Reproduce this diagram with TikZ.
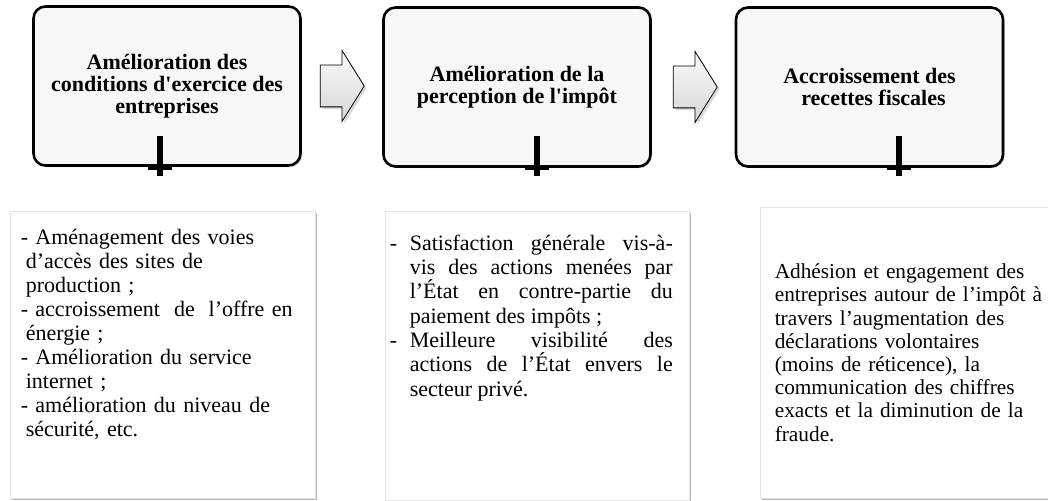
\documentclass[tikz,border=0pt]{standalone}
\usepackage{fontspec}
\setmainfont{Liberation Serif}
\usetikzlibrary{calc,shapes.arrows,shadows}

\begin{document}
\begin{tikzpicture}[x=1pt,y=-1pt,
  topbox/.style={draw,line width=2.6pt,rounded corners=12pt,fill=gray!6,
    minimum width=267pt,minimum height=159pt,inner sep=0pt,align=center,
    font=\fontsize{22}{22}\selectfont\bfseries,
    drop shadow={shadow xshift=1.5pt,shadow yshift=-1.5pt,opacity=.35}},
  lowbox/.style={draw=gray!22,line width=.8pt,fill=white,inner sep=0pt,
    drop shadow={shadow xshift=2pt,shadow yshift=-2pt,fill=gray!70,opacity=.8}},
  lowtext/.style={anchor=north west,inner sep=0pt,
    font=\fontsize{22}{24}\selectfont},
  flow/.style={single arrow,draw,line width=.8pt,minimum height=44pt,
    inner xsep=0pt,inner ysep=20.5pt,single arrow head extend=14.5pt,
    single arrow tip angle=116,anchor=tail,
    top color=gray!4,bottom color=gray!32,drop shadow={opacity=.3}},
  stem/.style={line width=6pt}]
\useasboundingbox (0,0) rectangle (1048,500);
% upper row
\node[topbox] (b1) at (167,86) {Amélioration des\\conditions d\textquotesingle exercice des\\entreprises};
\node[topbox] (b2) at (517,87) {Amélioration de la\\perception de l\textquotesingle impôt};
\node[topbox] (b3) at (869.5,87) {Accroissement des\\\hspace*{8pt}recettes fiscales};
\node[flow] (f1) at ([xshift=18pt]b1.east) {};
\node[flow] (f2) at ([xshift=21pt]b2.east) {};
\foreach \x/\n in {160/1,537/2,899/3}{
  \coordinate (s\n-top) at (\x,136); \coordinate (s\n-bot) at (\x,176);
  \coordinate (s\n-l) at (\x-12,167); \coordinate (s\n-r) at (\x+12,167);
  \draw[stem] (s\n-top) -- (s\n-bot);
  \draw[line width=5pt] (s\n-l) -- (s\n-r);
}
% lower row
\node[lowbox,minimum width=305pt,minimum height=287pt] (la) at (162.5,354.5) {};
\node[lowbox,minimum width=304pt,minimum height=289pt] (lb) at (537,355.5) {};
\node[lowbox,minimum width=310pt,minimum height=291pt] (lc) at (915,352.5) {};
\node[lowtext,text width=295pt,align=left] (ta) at ([shift={(11,18)}]la.north west)
  {- Aménagement des voies\\\hspace*{5pt}d’accès des sites de\\\hspace*{5pt}production ;\\
   - accroissement\hspace{.3em} de\hspace{.3em} l’offre en\\\hspace*{5pt}énergie ;\\
   - Amélioration du service\\\hspace*{5pt}internet ;\\
   - amélioration du niveau de\\\hspace*{5pt}sécurité, etc.};
\node[lowtext,text width=283pt,align=justify,
  font=\fontsize{22}{24.3}\selectfont] (tb) at ([shift={(5,24)}]lb.north west)
  {{\hangindent=20pt\hangafter=1\noindent\makebox[20pt][l]{-}Satisfaction générale vis-à-\linebreak
   vis des actions menées par\linebreak l’État en contre-partie du\linebreak
   paiement des impôts ;\par}
   {\hangindent=20pt\hangafter=1\noindent\makebox[20pt][l]{-}Meilleure visibilité des\linebreak
   actions de l’État envers le\linebreak secteur privé.\par}};
\node[lowtext,text width=280pt,align=left,
  font=\fontsize{21.3}{23.2}\selectfont] (tc) at ([shift={(15,57)}]lc.north west)
  {Adhésion et engagement des\\entreprises autour de l’impôt à\\travers l’augmentation des\\
   déclarations volontaires\\(moins de réticence), la\\communication des chiffres\\
   exacts et la diminution de la\\fraude.};
\end{tikzpicture}
\end{document}
